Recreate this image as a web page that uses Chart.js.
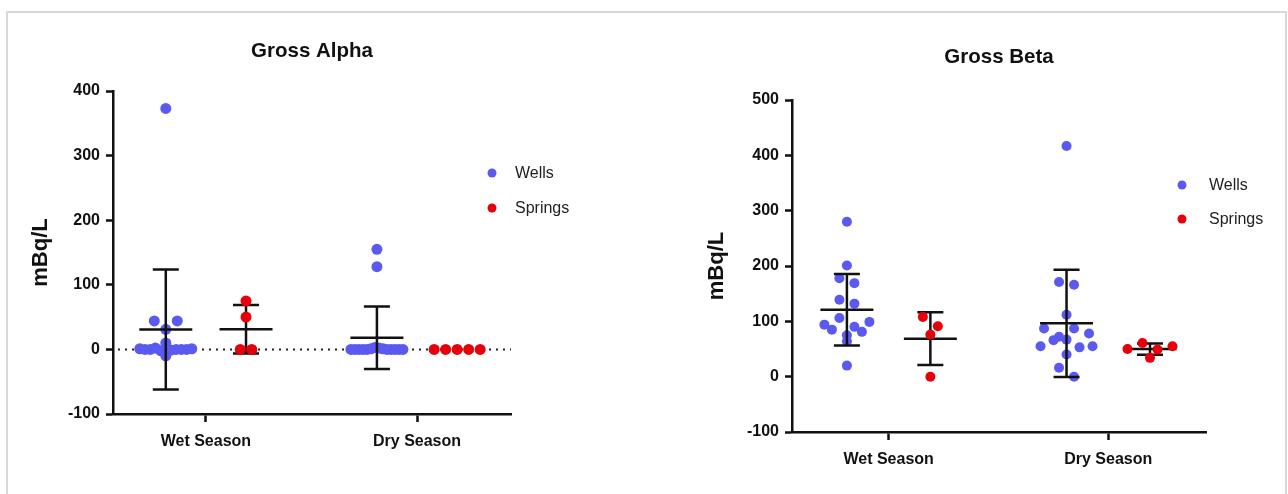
<!DOCTYPE html>
<html><head><meta charset="utf-8">
<script src="https://cdn.jsdelivr.net/npm/chart.js@4.4.1/dist/chart.umd.min.js"></script>
<style>
html,body{margin:0;padding:0;background:#fff;width:1288px;height:494px;overflow:hidden;}
#frame{position:absolute;left:6px;top:11px;width:1281px;height:540px;border:2px solid #d8d8d8;box-sizing:border-box;}
.box{position:absolute;top:0;width:644px;height:494px;}
canvas{display:block;}
</style></head><body>
<div id="frame"></div>
<div class="box" style="left:0"><canvas id="alpha" width="644" height="494"></canvas></div>
<div class="box" style="left:644px"><canvas id="beta" width="644" height="494"></canvas></div>
<script>
// ---------------- data ----------------
const categories = ['Wet Season', 'Dry Season'];
const seriesNames = ['Wells', 'Springs'];
const alphaTicks = [-100, 0, 100, 200, 300, 400];
const betaTicks = [-100, 0, 100, 200, 300, 400, 500];
const alphaWellsWet = [373, 44, 44, 31, 10, 2, 1, 1, 0, 0, 0, 0, 0, -1, -2, -10];
const alphaWellsDry = [155, 128, 3, 2, 1, 1, 0, 0, 0, 0, 0, 0, 0, 0, 0, 0];
const alphaSpringsWet = [75, 50, 0, 0];
const alphaSpringsDry = [0, 0, 0, 0, 0];
const betaWellsWet = [280, 201, 178, 169, 139, 132, 106, 99, 94, 90, 85, 81, 75, 64, 20];
const betaWellsDry = [417, 171, 166, 112, 87, 87, 78, 72, 67, 66, 55, 55, 53, 40, 16, 0];
const betaSpringsWet = [108, 91, 76, 0];
const betaSpringsDry = [61, 55, 50, 49, 34];

// ---------------- style ----------------
const FONT = "'Liberation Sans', Arial, sans-serif";
const BLUE = '#5a5af0';
const RED = '#e6000b';
const INK = '#111111';
const GROUP_OFFSET = 0.19;
const ROW_PX = 10, MAX_SPAN_PX = 52;

function stats(v) {
  const n = v.length;
  const m = v.reduce((s, x) => s + x, 0) / n;
  const sd = n > 1 ? Math.sqrt(v.reduce((s, x) => s + (x - m) * (x - m), 0) / (n - 1)) : 0;
  return { m, sd };
}

function drawBars(chart, index) {
  const ds = chart.data.datasets[index];
  const ctx = chart.ctx, xs = chart.scales.x, ys = chart.scales.y;
  ctx.save();
  ctx.strokeStyle = INK; ctx.lineWidth = 2.5; ctx.lineCap = 'butt';
  ds.groups.forEach((vals, ci) => {
    const { m, sd } = stats(vals);
    if (sd === 0) return;
    const cx = xs.getPixelForValue(ci + 1 + ds.offset);
    const yM = ys.getPixelForValue(m), yT = ys.getPixelForValue(m + sd), yB = ys.getPixelForValue(m - sd);
    ctx.beginPath();
    ctx.moveTo(cx, yT); ctx.lineTo(cx, yB);
    ctx.moveTo(cx - 13, yT); ctx.lineTo(cx + 13, yT);
    ctx.moveTo(cx - 13, yB); ctx.lineTo(cx + 13, yB);
    ctx.moveTo(cx - 26.5, yM); ctx.lineTo(cx + 26.5, yM);
    ctx.stroke();
  });
  ctx.restore();
}

const errorBarPlugin = {
  id: 'errorBars',
  beforeDatasetsDraw(chart, args, o) {
    if (!o.zeroLine) return;
    const ctx = chart.ctx, a = chart.chartArea, y0 = chart.scales.y.getPixelForValue(0);
    ctx.save();
    ctx.strokeStyle = '#222'; ctx.lineWidth = 2; ctx.setLineDash([2, 5]);
    ctx.beginPath(); ctx.moveTo(a.left + 5, y0); ctx.lineTo(a.right, y0); ctx.stroke();
    ctx.restore();
  },
  beforeDatasetDraw(chart, args) {
    if (!chart.data.datasets[args.index].barsOnTop) drawBars(chart, args.index);
  },
  afterDatasetDraw(chart, args) {
    if (chart.data.datasets[args.index].barsOnTop) drawBars(chart, args.index);
  }
};

const dotLegendPlugin = {
  id: 'dotLegend',
  afterDraw(chart, args, o) {
    const ctx = chart.ctx, a = chart.chartArea;
    chart.data.datasets.forEach((ds, i) => {
      const cx = a.right + o.dx, cy = a.top + o.dy + i * o.gap;
      ctx.save();
      ctx.fillStyle = ds.backgroundColor;
      ctx.beginPath(); ctx.arc(cx, cy, 4.5, 0, Math.PI * 2); ctx.fill();
      ctx.fillStyle = '#222'; ctx.font = '16px ' + FONT;
      ctx.textBaseline = 'middle'; ctx.textAlign = 'left';
      ctx.fillText(ds.label, cx + o.textGap, cy + 1);
      ctx.restore();
    });
  }
};

function swarmOffsets(vals, ys, stepPx) {
  const idx = vals.map((v, i) => i).sort((a, b) => vals[b] - vals[a]);
  const rows = [];
  let cur = null, startPx = 0;
  idx.forEach(i => {
    const py = ys.getPixelForValue(vals[i]);
    if (!cur || py - startPx > ROW_PX) { cur = []; rows.push(cur); startPx = py; }
    cur.push(i);
  });
  const out = new Array(vals.length).fill(0);
  rows.forEach(r => {
    const n = r.length;
    const step = n > 1 ? Math.min(stepPx, MAX_SPAN_PX / (n - 1)) : 0;
    const mean = r.reduce((s, i) => s + vals[i], 0) / n;
    const order = [...r].sort((a, b) => Math.abs(vals[b] - mean) - Math.abs(vals[a] - mean));
    const slots = Array.from({ length: n }, (_, k) => k - (n - 1) / 2)
      .sort((a, b) => Math.abs(a) - Math.abs(b) || a - b);
    order.forEach((i, k) => { out[i] = slots[k] * step; });
  });
  return out;
}

function initialPoints(groups, offset) {
  const pts = [];
  groups.forEach((vals, ci) => vals.forEach(v => pts.push({ x: ci + 1 + offset, y: v })));
  return pts;
}

function applySwarm(chart, stepPx) {
  const xs = chart.scales.x, ys = chart.scales.y;
  const pxPerX = xs.getPixelForValue(2) - xs.getPixelForValue(1);
  chart.data.datasets.forEach(ds => {
    const pts = [];
    ds.groups.forEach((vals, ci) => {
      const offs = swarmOffsets(vals, ys, stepPx);
      vals.forEach((v, k) => pts.push({ x: ci + 1 + ds.offset + offs[k] / pxPerX, y: v }));
    });
    ds.data = pts;
  });
  chart.update('none');
}

function makeChart(id, cfg) {
  const tickFont = { family: FONT, size: 16, weight: 'bold' };
  const wellsGroups = cfg.wells, springsGroups = cfg.springs;
  const chart = new Chart(document.getElementById(id), {
    type: 'scatter',
    data: {
      datasets: [
        { label: seriesNames[0], groups: wellsGroups, offset: -GROUP_OFFSET, barsOnTop: true,
          backgroundColor: BLUE, borderWidth: 0, pointRadius: cfg.radius, pointHoverRadius: cfg.radius,
          data: initialPoints(wellsGroups, -GROUP_OFFSET) },
        { label: seriesNames[1], groups: springsGroups, offset: GROUP_OFFSET, barsOnTop: false,
          backgroundColor: RED, borderWidth: 0, pointRadius: cfg.radius, pointHoverRadius: cfg.radius,
          data: initialPoints(springsGroups, GROUP_OFFSET) }
      ]
    },
    options: {
      responsive: false, animation: false, events: [],
      layout: { padding: { left: 0, top: 0, right: cfg.padRight, bottom: 0 } },
      plugins: {
        legend: { display: false }, tooltip: { enabled: false },
        title: { display: true, text: cfg.title, fullSize: false, color: INK,
          font: { family: FONT, size: 20.5, weight: 'bold' },
          padding: { top: cfg.titleTop, bottom: cfg.titleBottom } },
        errorBars: { zeroLine: cfg.zeroLine },
        dotLegend: cfg.legend
      },
      scales: {
        x: {
          type: 'linear', min: 0.56, max: 2.445,
          afterFit: s => { s.height = cfg.xHeight; },
          afterBuildTicks: s => { s.ticks = categories.map((c, i) => ({ value: i + 1 })); },
          ticks: { callback: v => categories[v - 1], color: INK, font: tickFont, padding: 10, maxRotation: 0, autoSkip: false },
          grid: { drawOnChartArea: false, drawTicks: true, tickLength: 8, tickWidth: 2.5, tickColor: INK },
          border: { display: true, color: INK, width: 2.5 }
        },
        y: {
          type: 'linear', min: cfg.ticks[0], max: cfg.ticks[cfg.ticks.length - 1],
          afterFit: s => { s.width = cfg.yWidth; },
          afterBuildTicks: s => { s.ticks = cfg.ticks.map(v => ({ value: v })); },
          ticks: { color: INK, font: tickFont, padding: 6 },
          grid: { drawOnChartArea: false, drawTicks: true, tickLength: 7, tickWidth: 2.5, tickColor: INK },
          border: { display: true, color: INK, width: 2.5 },
          title: { display: true, text: 'mBq/L', color: INK, font: { family: FONT, size: 22, weight: 'bold' },
            padding: { top: cfg.yTitlePad, bottom: 0 } }
        }
      }
    },
    plugins: [errorBarPlugin, dotLegendPlugin]
  });
  applySwarm(chart, cfg.step);
  return chart;
}

makeChart('alpha', {
  title: 'Gross Alpha', ticks: alphaTicks,
  wells: [alphaWellsWet, alphaWellsDry], springs: [alphaSpringsWet, alphaSpringsDry],
  radius: 5.5, step: 11.5, padRight: 133, yWidth: 113, xHeight: 80, yTitlePad: 28,
  titleTop: 38.7, titleBottom: 27.7, zeroLine: true,
  legend: { dx: -19, dy: 82, gap: 35, textGap: 23 }
});
makeChart('beta', {
  title: 'Gross Beta', ticks: betaTicks,
  wells: [betaWellsWet, betaWellsDry], springs: [betaSpringsWet, betaSpringsDry],
  radius: 5, step: 15, padRight: 82, yWidth: 148, xHeight: 62, yTitlePad: 60,
  titleTop: 44.7, titleBottom: 30.7, zeroLine: false,
  legend: { dx: -24, dy: 85, gap: 34, textGap: 27 }
});
</script>
</body></html>
